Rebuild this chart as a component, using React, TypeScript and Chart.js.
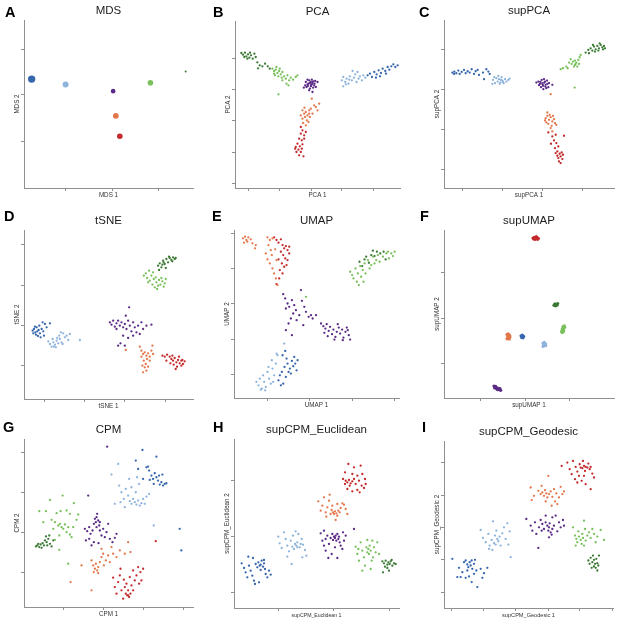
import React, { useEffect, useRef } from "react";
import { Chart, registerables } from "chart.js";

Chart.register(...registerables);

type Pt = [number, number];

const clusterNames = ["dark blue", "light blue", "purple", "orange", "red", "light green", "dark green"];
const clusterColors = ["#3766ad", "#8fb4dc", "#5b2a86", "#e4774a", "#c42a2b", "#78c05b", "#3a7a33"];

// ---------- A: MDS (one centroid per cluster) ----------
const mdsPoints: Pt[] = [[-20.5, 6.3], [-10.3, 4.7], [4, 2.7], [4.8, -4.7], [6, -10.8], [15.2, 5.2], [25.8, 8.6]];
const mdsRadii = [3.7, 3, 2.3, 2.9, 2.8, 2.8, 1];

// ---------- B: PCA ----------
const pcaDB: Pt[] = [[18.5,7.5],[19.2,8],[19.8,7],[20.5,8.5],[21.2,7.8],[21.8,9],[22.5,8.2],[23,9.5],[23.8,8.8],[24.5,10],[25,9.2],[25.6,10.2],[26.2,10.8],[26.8,10],[24,8],[22.2,7.2],[27.5,10.5],[21,6.8]];
const pcaLB: Pt[] = [[10.8,6],[11.2,7],[11.8,5.5],[12.2,6.5],[12.8,5],[13.2,7.2],[13.8,6],[14.4,6.8],[14.8,7.8],[15.2,5.5],[15.8,6.5],[16.2,7.2],[16.8,6],[17.2,7.5],[17.8,6.8],[11.2,4.2],[12,4.8],[14,8.8],[15.5,8.5],[13,6.2]];
const pcaP: Pt[] = [[0,5.5],[0.5,4.8],[1,6],[1.5,4.2],[2,5.2],[2.5,4.5],[1.2,3.5],[0.2,4],[1.8,6.2],[2.8,5.8],[0.8,5],[2.2,3.8],[-0.2,4.5],[1.5,5.5],[3,4],[1,3],[2,2.5],[0.5,6.2],[2.6,5],[1.6,4.6],[-0.6,3.8],[3.5,5.5],[1.2,5.2],[1.8,4.8],[0.6,4.3],[2.2,5.7]];
const pcaO: Pt[] = [[-1,-3],[-0.5,-4],[0,-3.5],[0.5,-4.5],[1,-3],[-0.2,-5],[-1,-5.5],[0.3,-6],[1.2,-5],[2,-4],[1.5,-2.5],[2.5,-1.5],[3,-2],[3.5,-3],[0,-7.5],[-0.8,-6.8],[0.8,-6.5],[-0.4,-2.2],[1.8,0.5],[4,-1],[-1.5,-4.5],[1,-4]];
const pcaR: Pt[] = [[-1,-9],[-1.5,-10],[-0.5,-10.5],[-2,-11.5],[-1.2,-12],[-2.5,-13],[-1.8,-13.8],[-1,-13.2],[-3,-14],[-2.2,-14.8],[-1.5,-15.5],[-0.7,-16.8],[-2.8,-15.5],[-0.5,-11.5],[0,-9.5],[-1.5,-8],[-2,-16.5],[-3.2,-14.5],[-1.2,-14.5]];
const pcaG: Pt[] = [[-10,9.5],[-9.5,8.8],[-9,9.2],[-8.5,8.2],[-8,8.8],[-7.5,7.8],[-9.2,7.5],[-8.2,7.2],[-7,8.5],[-6.5,7.2],[-6,6.5],[-5.5,7.5],[-5,6],[-4.5,6.8],[-3.8,6.2],[-3,7],[-5.8,5],[-7,6],[-8.8,10],[-7.8,9.5],[-7.2,6.8],[-5.2,4.5],[-8.2,1.8],[-2.5,7.5],[-9.5,8]];
const pcaDG: Pt[] = [[-19.3,14.2],[-18.8,13.7],[-18.2,14.3],[-17.8,13.2],[-17.3,13.8],[-16.9,12.8],[-16.4,13.5],[-15.9,12.5],[-15.4,14],[-15,13],[-17.5,12.5],[-18.4,13],[-16.7,14.3],[-14.5,11.4],[-13.8,10.5],[-14.3,9.6],[-13,10.2],[-12.2,11],[-11.4,10.2],[-10.8,9.5]];

// ---------- C: supPCA ----------
const supPcaDB: Pt[] = [[-18,8.2],[-17.4,8.5],[-16.8,8],[-16.2,8.8],[-15.8,7.8],[-15.2,8.4],[-14.5,9],[-14,8],[-13.4,8.6],[-12.8,8.2],[-12.2,9.2],[-11.5,7.8],[-11,8.6],[-10.4,9],[-10,7.5],[-8.8,8.2],[-8.5,6.2],[-7.8,9.2],[-7.2,8.5],[-6.8,7.8],[-17.5,7.8]];
const supPcaLB: Pt[] = [[-5.8,6],[-5.2,5],[-4.8,6.5],[-4.4,5.5],[-4,6.2],[-3.6,5.2],[-3.2,6.8],[-3,5.8],[-2.6,5],[-2.2,6.2],[-1.8,5.5],[-1.2,6],[-0.8,6.4],[-4.2,7.2],[-5.4,6.8],[-3.4,6],[-2.8,5.4],[-3.8,4.8],[-6,4.8]];
const supPcaP: Pt[] = [[7.8,5.5],[8.3,4.8],[8.8,6],[9.2,4.2],[9.6,5.2],[10,4.5],[10.4,5.8],[10.8,3.8],[8.6,3.8],[8,4.4],[9.5,6.2],[10.2,3.5],[9,5],[9.8,5.5],[11,5],[8.4,5.4],[9.3,3.2],[10.5,4.8],[7.2,5.2],[12,4.5],[9.1,4.6],[9.9,4]];
const supPcaO: Pt[] = [[10,-5.5],[10.5,-4.8],[11,-6],[11.5,-5.2],[12,-6.5],[12.5,-5.8],[10.8,-7.2],[11.8,-7.8],[11.2,-4.5],[10.2,-6.8],[12.2,-4.8],[12.8,-7],[9.8,-6.2],[11.5,-8.5],[10.5,-3.8],[13.2,-7.5],[11.5,1.7],[12,-9.5]];
const supPcaR: Pt[] = [[10.8,-9.8],[12,-11],[13,-10.5],[12.5,-12.2],[13.2,-13],[12.8,-14.5],[13.8,-14],[13.5,-15.5],[14.2,-16.2],[14.5,-17],[13.8,-17.5],[14.8,-15.8],[15.2,-16.5],[14,-18.5],[14.5,-19],[15.5,-10.8],[11.6,-13.2],[13.5,-16.8],[15,-17.8],[13,-16]];
const supPcaG: Pt[] = [[14.5,9.2],[15.2,9.5],[16.2,10],[17,11.2],[17.8,10.8],[18.2,11.5],[18.8,10.5],[19.2,11.2],[19.8,12],[19.5,10],[18.5,10],[19,10.8],[20.2,12.8],[20.5,13.5],[18.8,11.8],[20,10.8],[18.7,3.7],[17.5,12.2],[16.6,9.5]];
const supPcaDG: Pt[] = [[22,14.2],[22.8,15],[23.5,15.5],[24,14.8],[24.5,16],[25,15.2],[25.5,16.2],[26,15.5],[26.5,16.5],[27,15.8],[27.5,16.2],[25.8,14.8],[24.8,14.5],[26.2,17],[27.2,15.2],[23,14],[24.2,16.5],[27.8,15.5]];

// ---------- D: tSNE ----------
const tsneDB: Pt[] = [[-20.2,-7],[-19.8,-6.5],[-19.4,-7.5],[-19,-6],[-18.8,-7.2],[-18.4,-6.8],[-18,-7.8],[-19.2,-8.2],[-17.5,-6.5],[-17,-7.2],[-18.2,-5.5],[-17.2,-4.5],[-16.5,-5],[-16,-6],[-19.5,-5.8],[-17.8,-9],[-16.8,-8.5],[-20,-7.8],[-18.6,-8.6],[-15,-4.8]];
const tsneLB: Pt[] = [[-15,-11],[-14.5,-11.8],[-14,-10.5],[-13.5,-11.2],[-13,-10],[-12.5,-10.8],[-13.2,-12],[-12,-9.5],[-11.5,-10.5],[-12.2,-8.5],[-11,-7.8],[-10.5,-9],[-10,-8.5],[-9.5,-9.8],[-14.2,-9.5],[-15.5,-10.2],[-12.8,-9.2],[-11.2,-11],[-13.8,-11.8],[-6,-9.8],[-9,-8],[-11.7,-7.5]];
const tsneP: Pt[] = [[3,-4.5],[3.5,-5.2],[4,-4],[4.5,-5.8],[5,-4.8],[5.5,-4],[6,-5.5],[6.5,-4.5],[7,-6],[7.5,-5],[8,-6.5],[8.5,-4],[9,-5.5],[9.5,-7.2],[10,-4.5],[10.5,-6],[11,-7.5],[11.5,-5.5],[12.5,-4.5],[13,-6.5],[14,-5.5],[15.5,-5.2],[8.8,0],[7.8,-2.5],[5.5,-11.5],[6.2,-10.8],[7.5,-11.5],[8.5,-9.2],[10,-8.5],[7,-8.5],[5,-6.5],[12,-8]];
const tsneO: Pt[] = [[7.8,-12.8],[12,-11.8],[12.5,-13],[13,-14],[13.5,-13.5],[14,-14.5],[14.5,-13.8],[15,-14.8],[15.5,-13],[16,-14],[13.2,-16],[13.8,-17],[13.5,-18],[14,-19],[13,-19.5],[14.5,-17.8],[12.8,-17.5],[15,-16],[14.2,-15.5],[15.8,-11.5],[12.5,-14.8]];
const tsneR: Pt[] = [[18.8,-14.5],[19.5,-14.8],[20.2,-14.2],[21,-14.8],[21.5,-15.5],[22,-16],[22.5,-15.2],[23,-16.5],[23.5,-15.8],[24,-16.8],[24.5,-16],[25,-17],[25.5,-16.2],[21.2,-16.8],[22.2,-17.2],[23.2,-17.8],[24.5,-17.5],[20,-16],[21.8,-14.5],[23.8,-14.8],[22.8,-18.5],[24.8,-15.8]];
const tsneG: Pt[] = [[13.2,9.5],[13.8,10.2],[14.2,8.8],[14.8,11],[15,8],[15.5,9.5],[15.8,6.8],[16.2,8.5],[16.5,6],[17,7.5],[17.2,5.5],[17.8,8.2],[18.2,6.8],[18.8,7.8],[19.2,6.2],[19.5,7.2],[18.5,8.8],[16,10.5],[17.5,6.5],[14.5,7.5],[19.8,8.5],[16.8,9]];
const tsneDG: Pt[] = [[17.5,12.5],[18,13.2],[18.5,12],[19,14],[19.5,13],[20,14.5],[20.5,13.5],[21,14.8],[21.5,14.2],[22,15],[22.5,14.5],[19.8,11.8],[18.8,12.8],[17.8,11.2],[20.8,15.2],[21.8,13.8],[19.2,13.5],[22.8,14.8]];

// ---------- E: UMAP ----------
const umapDB: Pt[] = [[-8.2,-22],[-7.8,-20.5],[-7.2,-19.5],[-6.8,-23],[-6.4,-18],[-6,-21],[-5.5,-17],[-5.2,-19.5],[-4.8,-18.5],[-4.2,-16.2],[-3.8,-17.8],[-3.2,-17],[-2.8,-19],[-2.5,-16],[-4.5,-20],[-7.5,-23.5],[-5.8,-15.5],[-7,-14.5],[-6.2,-13.2],[-3.5,-15]];
const umapLB: Pt[] = [[-14.8,-22.5],[-14.2,-23.5],[-13.8,-21.5],[-13.2,-24.5],[-12.8,-20.5],[-12.5,-22.5],[-12,-24],[-11.5,-19.5],[-11,-21.5],[-10.5,-23],[-10,-18.5],[-9.5,-20.5],[-9,-17],[-8.5,-14.5],[-12.2,-25],[-13.5,-24.8],[-11.2,-18],[-10.2,-16],[-8.8,-14],[-6.5,-11],[-9.8,-22.5]];
const umapP: Pt[] = [[-6.8,3.8],[-6.2,2.5],[-5.5,1],[-6,-0.5],[-5,0],[-4.2,2],[-3.5,0.5],[-3,-1],[-3.8,-2],[-4.5,-3.5],[-5.2,-5],[-6,-7],[-4.2,-8.5],[-2.8,-4],[-2,-2.5],[-1.2,1.8],[-0.5,0],[0,-1.5],[0.8,-3],[1.5,-2.5],[2,-3.5],[-0.8,-5.5],[-1.5,5],[3,-2.5],[4.5,-5],[5.2,-5.8],[5.8,-6.5],[6.2,-5.2],[6.8,-7.2],[7.2,-6],[7.8,-8.2],[8.2,-6.8],[8.8,-9],[9.2,-7.5],[9.8,-6.2],[10.2,-8],[10.8,-6.8],[11.2,-9.2],[11.8,-7.5],[12.2,-6.2],[12.8,-8.5],[13.2,-9.8],[5.5,-7.8],[6.5,-8.8],[8.5,-9.8],[11,-10],[9.5,-5.2],[12.5,-7]];
const umapO: Pt[] = [[-18.8,20.5],[-18.2,21],[-17.8,20],[-17.2,20.8],[-18.5,19.2],[-17.5,19.5],[-16.5,20.2],[-16,19],[-15,18.5],[-15.2,17.5],[-11.5,20.8],[-10.8,20],[-10,20.5],[-11.2,18.5],[-10.5,17],[-12,16],[-11.5,14.2],[-10.8,13],[-10,11.5],[-9.5,10],[-9,8.5],[-8.5,6.5],[-10.2,15.5],[-9.2,17.2],[-8.8,14]];
const umapR: Pt[] = [[-9.5,20.8],[-8.8,20],[-8.2,19.2],[-7.5,20.2],[-7,18.5],[-6.5,17.5],[-6,18.2],[-5.5,17],[-5,16],[-6.8,15.5],[-6.2,14.5],[-5.5,14],[-7.2,13],[-6.5,12],[-5.8,12.5],[-7.8,11],[-7,10],[-8.2,14.2],[-7.5,16.5],[-8,8.5],[-8.8,6.8],[-5,18]];
const umapG: Pt[] = [[13.2,10.5],[13.8,9.5],[14.2,8.5],[14.8,11.5],[15.2,7.5],[15.5,10],[15.8,6.5],[16.2,12.2],[16.5,9],[17,11],[17.5,13],[17.8,10],[18.5,14],[19,11.5],[19.5,12.5],[20,15],[20.5,13],[21,14],[21.5,15.5],[22,13.5],[23,15],[24,16],[24.8,14.5],[25.5,16],[26,15.2],[26.5,16.5],[17.2,7.5],[0,3],[24.5,16.5]];
const umapDG: Pt[] = [[16,13.5],[16.8,12.2],[18,15],[18.8,13.2],[19.5,15.5],[20.5,15.2],[21.2,16.5],[22.2,16],[23.2,16.5],[23.8,14.2],[17.5,14.2],[20,16.8]];

// ---------- F: supUMAP ----------
const supUmapDB: Pt[] = [[2.6,-8.6],[3,-8.4],[3.4,-8.8],[2.8,-9.1],[3.2,-9.2],[3,-8.8]];
const supUmapLB: Pt[] = [[9.2,-10.8],[9.6,-10.6],[10,-11],[9.4,-11.4],[9.8,-11.6],[9.2,-11.8],[10,-11.5],[9.6,-11.1]];
const supUmapP: Pt[] = [[-5.5,-23.7],[-5.2,-24],[-4.8,-24.2],[-4.5,-24.5],[-4.2,-24.4],[-3.8,-24.8],[-3.5,-25],[-5,-23.8],[-4.4,-24.8],[-4,-24.6],[-5.3,-24.3],[-3.7,-24.5],[-4.7,-24.5]];
const supUmapO: Pt[] = [[-1.6,-8.2],[-1.2,-8],[-0.8,-8.5],[-1.4,-9],[-1,-9.2],[-1.6,-9.5],[-0.7,-9],[-1.2,-8.6],[-1.4,-8.4],[-0.9,-9.6]];
const supUmapR: Pt[] = [[6.2,20.8],[6.6,21],[7,20.6],[7.4,20.9],[7.8,20.7],[6.8,20.4],[7.2,21.2],[6.4,20.5],[7.6,20.4],[7,20.9]];
const supUmapG: Pt[] = [[14.8,-7.2],[15,-6.5],[15.2,-5.8],[15.5,-6.2],[15.4,-7],[14.9,-7.6],[15.6,-5.6],[15.1,-6.8],[15.3,-7.4],[15.7,-6]];
const supUmapDG: Pt[] = [[12.5,0.6],[12.8,1],[13.2,0.8],[13.6,1.1],[13,0.4],[13.4,0.6],[12.7,0.5]];

// ---------- G: CPM ----------
const cpmDB: Pt[] = [[14,14],[14.8,13],[15.5,11.5],[16,10.5],[16.5,12.2],[17,11],[17.5,10],[18,8.8],[18.5,9.5],[19,8.5],[19.5,9],[20,9.2],[17.8,11.5],[18.8,11.8],[16.2,9],[15,10.2],[12.8,19.2],[17,17.2],[10.8,16],[11.5,13.5],[13,10.5],[14.5,14.2],[24,-4.5],[24.5,-11]];
const cpmLB: Pt[] = [[3.5,11.8],[5.5,15],[5.8,8.5],[6.5,6.5],[7.2,4.5],[7.8,7.5],[8.5,5.5],[9,3.8],[9.5,3],[10,4.5],[10.5,3.5],[11,2.8],[11.5,4],[12,2.5],[12.5,3.2],[13,4.5],[13.5,3],[14,5.2],[14.8,6],[10.8,6.5],[9.5,8],[8.8,10.5],[7.5,2],[4.5,3],[6.2,3.5],[11.8,9],[11.2,11],[16.2,-3.5]];
const cpmP: Pt[] = [[-4.5,-4.5],[-3.8,-5.2],[-3.2,-4],[-2.8,-6],[-2.2,-5],[-1.8,-3],[-1.5,-1.5],[-1.2,-2.5],[-1,-4],[-0.8,0],[-0.5,-2],[-0.2,-3.5],[0,-5],[0.5,-6.5],[1,-4.5],[1.5,-7],[2,-5.5],[2.5,-3],[3,-7.5],[3.8,-8.5],[4.5,-7.2],[5,-6],[-3.2,-7.5],[-1.8,-8.5],[-2.5,-9.5],[-4.2,-8],[-0.4,-8.8],[2.2,20.2],[-3.5,5.5],[-1,-1],[0,-2.5]];
const cpmO: Pt[] = [[-5.5,-15.5],[-2.5,-14],[-2,-15.5],[-1.5,-16.5],[-1.2,-15],[-0.8,-17],[-0.5,-16],[0,-14.5],[0.5,-13],[1,-12],[1.8,-14],[2.5,-12.5],[3,-14.5],[4,-12],[5,-13],[6,-11],[7.5,-12],[8.5,-8.5],[9.2,-11.5],[-1.8,-17.5],[-0.5,-17.8],[1.2,-15.5],[-8.8,-20.5],[-2.5,-23],[3.5,-10],[0.5,-10.5]];
const cpmR: Pt[] = [[4.5,-22],[5,-24],[5.5,-20.5],[6,-18.5],[6.5,-23],[7,-25.5],[7.2,-19.8],[7.5,-22],[7.8,-24],[8,-21],[8.2,-24.5],[8.5,-23],[8.8,-25],[9,-19],[9.5,-21.5],[10,-17],[10.5,-20],[11,-18.5],[11.5,-16],[11.8,-21],[12.2,-17.5],[12.5,-20],[13,-16.5],[10,-23],[9.2,-24],[6.2,-16.5],[4,-19.2],[8.5,-24.5],[16.8,-8.2]];
const cpmG: Pt[] = [[-15,4.2],[-11.2,5.5],[-7.8,3.2],[-18.2,0.8],[-16.2,0.8],[-13,0.2],[-11.8,0.8],[-10,1],[-9,0],[-6.5,-0.2],[-14.5,-1.8],[-13.5,-2.5],[-12.5,-3.5],[-12,-3],[-11.5,-4],[-11,-4.5],[-10.5,-3.2],[-10,-5.5],[-9.5,-4],[-9,-6.2],[-8.5,-7],[-12.2,-6.5],[-13.5,-7.8],[-12.2,-10.8],[-9.5,-15],[-17,-2.5],[-8,-4],[-7,-1.8],[-14,-4.5]];
const cpmDG: Pt[] = [[-19.2,-9.8],[-18.8,-9.5],[-18.2,-10],[-17.8,-9.2],[-17.2,-8.8],[-16.8,-9.5],[-16.5,-8],[-16,-8.5],[-15.5,-7.5],[-15,-9],[-14.5,-9.8],[-16.2,-6.8],[-15.2,-6.5],[-17.5,-10.2],[-18.5,-9],[-14,-8],[-15.8,-9.5]];

// ---------- H: supCPM_Euclidean ----------
const eucDB: Pt[] = [[-19.2,-14.8],[-18.5,-16.2],[-18,-17.5],[-17.5,-19],[-17,-15.5],[-16.5,-17],[-16,-18.5],[-15.5,-20],[-15,-15],[-14.5,-16],[-14.2,-14.5],[-13.8,-15.5],[-13.5,-16.8],[-13.2,-14],[-12.8,-15.8],[-12.5,-14.8],[-12.2,-16.5],[-12,-18],[-11.5,-19],[-11,-17],[-10.5,-18.2],[-14,-20.5],[-15.2,-21],[-17.2,-12.8],[-15.8,-13.2],[-12.5,-13.8],[-13.5,-15.2]];
const eucLB: Pt[] = [[-8.2,-6.8],[-7.8,-8.8],[-7.2,-10.2],[-6.5,-5.5],[-6,-7.5],[-5.5,-9.5],[-5,-11.2],[-4.5,-8],[-4,-9.8],[-3.8,-6.5],[-3.5,-10.5],[-3.2,-9],[-2.8,-9.5],[-2.5,-8.5],[-2.2,-6],[-1.8,-10],[-1.2,-7.5],[-0.8,-9.2],[-0.2,-10.8],[0.2,-12.5],[-1,-13],[-4.2,-15],[-5.5,-12.8],[-3,-5.2],[-1.5,-9],[-2.5,-10]];
const eucP: Pt[] = [[4.5,-5.8],[5,-8],[5.5,-9.5],[6,-11],[6.5,-6.5],[7,-9],[7.5,-7.2],[8,-6],[8.2,-7.8],[8.5,-6.8],[8.8,-7.2],[9,-6.5],[9.2,-8],[9.5,-6],[9.8,-7.5],[10,-6.8],[10.2,-8.5],[10.5,-9.5],[11,-10.5],[11.5,-8],[12,-6.5],[6.8,-13.2],[9.5,-13.2],[7.8,-12],[5.5,-5],[14.5,-4.5],[6,-7.5],[8.8,-10],[11.2,-5.5]];
const eucO: Pt[] = [[3.8,3.8],[4.5,1],[5,2.5],[5.5,5],[6,0.5],[6.5,2],[7,4],[7.2,5.8],[7.5,0],[7.8,1.2],[8.2,0.5],[8.5,0],[8.8,0.8],[9.2,0.2],[9.5,-0.5],[9.8,1],[10.2,0.5],[10.5,1.8],[11,3.2],[11.5,2.8],[12,1.5],[12.5,0],[9,-1.8],[6.2,-0.8],[9.5,3],[8,2.5]];
const eucR: Pt[] = [[12.8,15],[14.5,14],[16.5,14.5],[11.8,12.5],[14,12],[15.5,11.5],[17,12],[17.8,10.5],[11.2,10.5],[12,10],[12.5,9.5],[13,10.2],[13.5,9.2],[14,9.8],[14.5,10.5],[15,9],[16,10],[16.8,8.5],[17.5,7.8],[18,9],[12.5,7.5],[14,6.8],[15.5,7.2],[13.2,8.5],[11.8,9],[16.2,6.5]];
const eucG: Pt[] = [[15,-9.8],[15.5,-12],[16,-14],[16.5,-8.5],[17,-11],[17.5,-13],[17.8,-15.5],[18.2,-10],[18.5,-11.5],[18.8,-10.5],[19,-12],[19.2,-9.5],[19.5,-11],[20,-8],[20.2,-13],[20.5,-10],[21,-11.5],[21.5,-8.5],[22,-12],[19.5,-16.5],[17,-17],[15.8,-10.5],[18.5,-7.8],[19.8,-14]];
const eucDG: Pt[] = [[23,-14.2],[23.5,-14.8],[24,-14],[24.5,-15.2],[24.8,-14.5],[25.2,-15],[25.5,-14.2],[26,-15.5],[26.5,-14.8],[27,-15],[23.8,-15.8],[24.5,-16.2],[25,-17],[23.2,-17.5],[25.8,-13.8]];

// ---------- I: supCPM_Geodesic ----------
const geoDB: Pt[] = [[-18,-13.5],[-16,-16.2],[-15.5,-19],[-15,-17.5],[-14.5,-14.5],[-14,-14],[-13.5,-15.2],[-13.2,-16],[-12.8,-14.5],[-12.5,-15.5],[-12.2,-14],[-12,-16.5],[-11.5,-15],[-11.2,-13.8],[-10.8,-17],[-14,-19.2],[-13,-18.8],[-12.2,-20.5],[-10.5,-22],[-11.5,-18],[-9.5,-16.5],[-8.5,-17.8],[-7.5,-16.2],[-9,-19.2],[-16.5,-19],[-13.5,-17]];
const geoLB: Pt[] = [[-9.5,-4.8],[-8.8,-7.2],[-8,-8.5],[-7.2,-6],[-6.8,-9.5],[-6.2,-7.8],[-5.8,-2.2],[-5.5,-8.8],[-5.2,-6.5],[-5,-9.2],[-4.5,-7.5],[-4.2,-8.2],[-3.8,-6.8],[-3.5,-9.5],[-3,-5.8],[-2.5,-4],[-2,-7.5],[-1.5,-2.8],[-1.2,-9.2],[-0.8,-5.2],[-0.5,-13],[-7,-10.5],[-4.8,-5],[-6,-10.8]];
const geoP: Pt[] = [[4.2,-1.5],[5.5,-3.5],[6,-5],[6.8,-2.5],[7.2,-6],[7.8,-10.2],[8,-4],[8.5,-1.8],[9,-3],[9.5,-4.5],[10,-2.5],[10.5,-3.5],[10.8,-5],[11,-4],[11.2,-2.8],[11.5,-5.5],[11.8,-6.2],[12,-4.5],[12.5,-3.5],[13,-0.5],[13.5,-5.2],[14,-2.5],[14.5,-4],[15.2,-1.8],[15.5,-3.5],[10,-0.5],[12,-1],[11,-7],[8.8,-5]];
const geoO: Pt[] = [[5.5,8],[5.8,4.2],[6.5,5.5],[7.8,7],[8.5,6],[9,6.5],[9.5,5.5],[9.8,7.2],[10.2,6.2],[10.5,5],[10.8,11.5],[11,6],[11.5,6.8],[12,5.2],[12.5,7.5],[12.8,3.8],[13.2,6.2],[13.5,3],[14,5],[14.5,8.2],[15,6],[15.5,6.8],[11.8,2.5],[10,3.8],[8.8,8.5]];
const geoR: Pt[] = [[14.8,14.5],[16.5,15.5],[17.2,13.5],[17.8,12],[18.2,16],[18.8,10.5],[19,14.2],[19.5,12.8],[20,11.5],[20.2,15],[20.5,14],[21,13.8],[21.2,16],[21.5,14.5],[21.8,13],[22,14.2],[22.5,14],[22.8,15.2],[23.2,13.5],[23.5,14.2],[24,12.2],[24.5,11],[20.8,10],[22,9],[23.5,7.5],[19.5,9.5],[21.5,11.5]];
const geoG: Pt[] = [[18.2,-4],[18.8,-6.5],[19.2,-7.5],[19.5,-8.5],[19.8,-5.2],[20,-6.8],[20.5,-7.8],[20.8,-9],[21,-6],[21.2,-7.2],[21.5,-9.5],[21.8,-4.5],[22,-8],[22.5,-6.5],[23,-5.5],[23.5,-7.2],[24,-4.5],[24.5,-6],[25,-8.5],[25.5,-6.8],[26.5,-4.8],[27.5,-7.8],[21.5,-2],[19,-9.5]];
const geoDG: Pt[] = [[22.8,-14],[23.2,-15],[23.5,-13.2],[24,-14.5],[24.2,-12.5],[24.5,-13.8],[24.8,-15],[25,-16.2],[25.2,-13.5],[25.5,-17],[25.8,-15.5],[26,-12.5],[24.5,-15.8],[23.8,-16.2],[25.5,-14.8]];

// ---------- axis ranges and tick positions (data units) ----------
const panelLetters = ["A", "B", "C", "D", "E", "F", "G", "H", "I"];
const panelTitles = ["MDS", "PCA", "supPCA", "tSNE", "UMAP", "supUMAP", "CPM", "supCPM_Euclidean", "supCPM_Geodesic"];
const xRanges: Pt[] = [[-22.8, 28], [-21.2, 28.2], [-20.5, 30.5], [-22.8, 28], [-21.5, 27.8], [-20.5, 30.5], [-22.8, 28], [-21.5, 28], [-20.5, 30.2]];
const yRanges: Pt[] = [[-26.3, 24], [-26.3, 23.8], [-26.5, 24], [-27.5, 23.2], [-27.3, 23], [-27.3, 23.2], [-28, 22.5], [-28.2, 22.5], [-28.3, 22]];
const xTickValues = [
  [-10.4, 3.8, 17.5], [-17.2, -7.8, 1.6, 10.8, 20.2], [-15, -3, 9, 21],
  [-16.7, -4.5, 7.5, 19.7], [-11.5, 1.2, 13.8, 26.5], [-9.7, 3.8, 17.2],
  [-11, 1, 13, 25], [-8.2, 8.3, 25], [-18.2, -8.7, 1, 10.7, 20.3, 30],
];
const yTickValues = [
  [15.3, 1.7, -12.3], [12.5, 3.2, -6, -15.5, -24.8], [15.2, 3.2, -8.8, -20.8],
  [18.8, 6.7, -5.3, -17.5], [22, 11.5, 1, -9.7, -20.2], [10.3, -3.3, -16.8],
  [18.3, 6.3, -5.7, -17.7], [10, -6.7, -23.5], [15.4, 5.7, -4, -13.7, -23.5],
];

const panelClusters: Pt[][][] = [
  mdsPoints.map((p) => [p]),
  [pcaDB, pcaLB, pcaP, pcaO, pcaR, pcaG, pcaDG],
  [supPcaDB, supPcaLB, supPcaP, supPcaO, supPcaR, supPcaG, supPcaDG],
  [tsneDB, tsneLB, tsneP, tsneO, tsneR, tsneG, tsneDG],
  [umapDB, umapLB, umapP, umapO, umapR, umapG, umapDG],
  [supUmapDB, supUmapLB, supUmapP, supUmapO, supUmapR, supUmapG, supUmapDG],
  [cpmDB, cpmLB, cpmP, cpmO, cpmR, cpmG, cpmDG],
  [eucDB, eucLB, eucP, eucO, eucR, eucG, eucDG],
  [geoDB, geoLB, geoP, geoO, geoR, geoG, geoDG],
];

// ---------- layout (positions / styling only) ----------
const PW = 206;
const PH = 207;
const TICK = 3;
const axisColor = "#8f8f8f";
const FONT = '"Liberation Sans", Arial, Helvetica, sans-serif';
// chart-area edges inside each panel: [left, top, right, bottom]
const areas = [
  [24, 20, 193, 188], [29, 21, 194, 188], [32, 20, 202, 188],
  [24, 23, 193, 192], [28, 23, 193, 191], [32, 23, 202, 191],
  [24, 25, 193, 193], [28, 25, 193, 194], [32, 27, 201, 194],
];
const letterPos = [[5, 17], [7, 17], [7, 17], [4, 14], [6, 14], [8, 14], [3, 18], [7, 18], [10, 18]];
const xLabelFont = [6.3, 6.3, 6.3, 6.3, 6.3, 6.3, 6.3, 5.2, 5.6];

function makeTextPlugin(i: number) {
  return {
    id: "panelText" + i,
    afterDraw(chart: any) {
      const ctx = chart.ctx as CanvasRenderingContext2D;
      const a = chart.chartArea;
      const cx = (a.left + a.right) / 2;
      const cy = (a.top + a.bottom) / 2;
      ctx.save();
      ctx.fillStyle = "#000";
      ctx.textBaseline = "alphabetic";
      ctx.textAlign = "left";
      ctx.font = `bold 14.5px ${FONT}`;
      ctx.fillText(panelLetters[i], letterPos[i][0], letterPos[i][1]);
      ctx.fillStyle = "#1c1c1c";
      ctx.textAlign = "center";
      ctx.font = `11.5px ${FONT}`;
      ctx.fillText(panelTitles[i], cx, a.top - 6);
      ctx.fillStyle = "#333";
      ctx.font = `${xLabelFont[i]}px ${FONT}`;
      ctx.fillText(panelTitles[i] + " 1", cx, a.bottom + 9);
      ctx.font = `6.3px ${FONT}`;
      ctx.translate(a.left - 5, cy);
      ctx.rotate(-Math.PI / 2);
      ctx.fillText(panelTitles[i] + " 2", 0, 0);
      ctx.restore();
    },
  };
}

function buildConfig(i: number): any {
  const [l, t, r, b] = areas[i];
  const clusters = panelClusters[i];
  const isMds = i === 0;
  const isSupUmap = i === 5;
  const axisBase = (ticks: number[]) => ({
    type: "linear",
    afterBuildTicks: (scale: any) => {
      scale.ticks = ticks.map((v) => ({ value: v }));
    },
    ticks: { display: false },
    grid: { drawOnChartArea: false, drawTicks: true, tickLength: TICK, color: axisColor, lineWidth: 1 },
    border: { display: true, color: axisColor, width: 1 },
  });
  return {
    type: "scatter",
    data: {
      datasets: clusters.map((pts, k) => ({
        label: clusterNames[k],
        data: pts.map(([x, y]) => ({ x, y })),
        backgroundColor: clusterColors[k],
        borderWidth: 0,
        pointRadius: isMds ? mdsRadii[k] : isSupUmap ? 1.6 : 1.15,
      })),
    },
    options: {
      responsive: false,
      animation: false,
      events: [],
      layout: { padding: { left: l - TICK, top: t, right: PW - r, bottom: PH - b - TICK } },
      plugins: { legend: { display: false }, tooltip: { enabled: false }, title: { display: false } },
      scales: {
        x: { ...axisBase(xTickValues[i]), position: "bottom", min: xRanges[i][0], max: xRanges[i][1] },
        y: { ...axisBase(yTickValues[i]), position: "left", min: yRanges[i][0], max: yRanges[i][1] },
      },
    },
    plugins: [makeTextPlugin(i)],
  };
}

function Panel({ index }: { index: number }) {
  const ref = useRef<HTMLCanvasElement>(null);
  useEffect(() => {
    const chart = new Chart(ref.current as HTMLCanvasElement, buildConfig(index));
    return () => chart.destroy();
  }, [index]);
  const col = index % 3;
  const row = Math.floor(index / 3);
  return (
    <canvas
      ref={ref}
      width={PW}
      height={PH}
      style={{ position: "absolute", left: col * PW, top: row * PH, width: PW, height: PH }}
    />
  );
}

export default function App() {
  return (
    <div style={{ position: "absolute", left: 0, top: 0, width: 618, height: 622, background: "#fff" }}>
      {panelTitles.map((_, i) => (
        <Panel key={i} index={i} />
      ))}
    </div>
  );
}
